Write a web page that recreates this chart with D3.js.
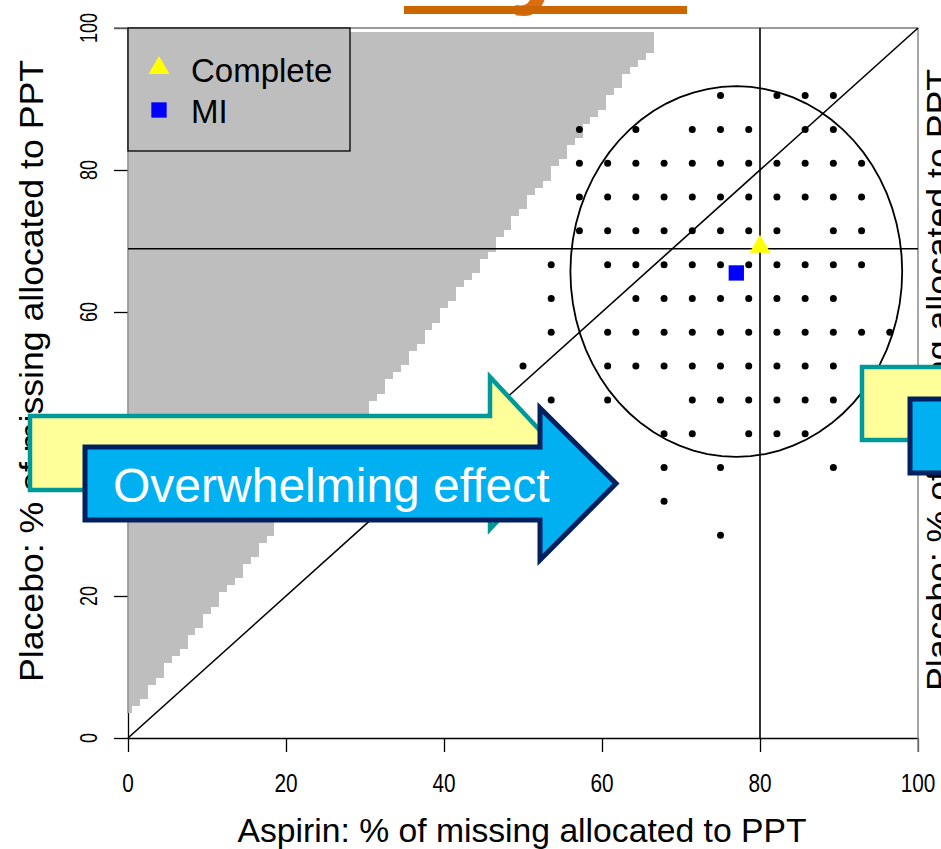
<!DOCTYPE html>
<html>
<head>
<meta charset="utf-8">
<script src="https://cdn.jsdelivr.net/npm/d3@7"></script>
<style>
  html, body { margin: 0; padding: 0; background: #ffffff; }
  svg { display: block; }
  text { font-family: "Liberation Sans", Arial, sans-serif; }
</style>
</head>
<body>
<svg id="chart" width="941" height="849"></svg>
<script>
// ---- data ----------------------------------------------------------
const xTicks = [0, 20, 40, 60, 80, 100];
const yTicks = [0, 20, 40, 60, 80, 100];
const xTitle = "Aspirin: % of missing allocated to PPT";
const yTitle = "Placebo: % of missing allocated to PPT";

// shaded (infeasible) region: for each integer aspirin % column, the lowest shaded placebo cell
const shadeColumns = d3.range(0, 67);
const shadeLowest = [4, 5, 6, 8, 9, 11, 12, 13, 15, 16, 18, 19, 21, 22, 23, 25, 26, 28, 29, 31,
                     32, 33, 35, 36, 38, 39, 41, 42, 44, 45, 46, 48, 49, 51, 52, 53, 55, 56, 58, 59,
                     61, 62, 64, 65, 66, 68, 69, 71, 72, 74, 75, 77, 78, 79, 81, 82, 84, 85, 87, 88,
                     89, 91, 92, 94, 95, 96, 97];
const shadeTop = 99.5;

// imputed allocations: aspirin has 28 missing, placebo has 21 missing
const aspirinMissing = 28;
const placeboMissing = 21;
const dotPlaceboCounts = [19, 18, 17, 16, 15, 14, 13, 12, 11, 10, 9, 8, 7, 6];
const dotAspirinCounts = [
  [21, 23, 24, 25],
  [16, 18, 20, 21, 22, 24, 25],
  [16, 17, 18, 19, 20, 21, 22, 23, 24, 25, 26],
  [16, 17, 18, 19, 20, 21, 22, 23, 24, 25, 26],
  [16, 17, 18, 19, 20, 21, 22, 23, 25, 26],
  [15, 17, 18, 19, 20, 21, 22, 23, 24, 25, 26],
  [15, 18, 19, 20, 21, 22, 23, 24, 25],
  [15, 17, 18, 19, 20, 21, 22, 23, 24, 25, 26, 27],
  [14, 17, 18, 19, 20, 21, 22, 23, 24, 25],
  [15, 17, 20, 21, 22, 23, 24, 25],
  [19, 20, 22, 23, 24],
  [19, 21, 25],
  [19],
  [21]
];

// summary points and the region around the MI estimate
const completePoint = [80.0, 68.9];
const miPoint = [77.0, 65.5];
const ellipseCenter = [77.0, 65.7];
const ellipseRadii = [21.0, 26.1];

const legendLabels = ["Complete", "MI"];
const arrowLabel = "Overwhelming effect";

// ---- layout --------------------------------------------------------
const svg = d3.select("#chart");
const x = d3.scaleLinear().domain([0, 100]).range([128, 918]);
const y = d3.scaleLinear().domain([0, 100]).range([738, 28]);

// axes (black)
const xAxis = d3.axisBottom(x).tickValues(xTicks).tickSize(14).tickSizeOuter(0).tickFormat("");
const yAxis = d3.axisLeft(y).tickValues(yTicks).tickSize(14).tickSizeOuter(0).tickFormat("");
const gx = svg.append("g").attr("transform", `translate(0,${y(0)})`).call(xAxis);
const gy = svg.append("g").attr("transform", `translate(${x(0)},0)`).call(yAxis);
[gx, gy].forEach(g => {
  g.selectAll("path").attr("stroke", "#000").attr("stroke-width", 1.3);
  g.selectAll("line").attr("stroke", "#000").attr("stroke-width", 1.3);
});
gx.selectAll(".tick").filter(d => d === 100).select("line").attr("stroke", "#555");

// tick labels
svg.append("g").selectAll("text").data(xTicks).join("text")
  .attr("transform", d => `translate(${x(d)},792) scale(0.8,1)`)
  .attr("text-anchor", "middle").attr("font-size", 26).attr("fill", "#000")
  .text(d => d);
svg.append("g").selectAll("text").data(yTicks).join("text")
  .attr("transform", d => `translate(97,${y(d)}) rotate(-90) scale(0.75,1)`)
  .attr("text-anchor", "middle").attr("font-size", 24).attr("fill", "#000")
  .text(d => d);

// shaded region, one raster column per aspirin %
svg.append("g").selectAll("rect").data(shadeColumns).join("rect")
  .attr("x", d => x(Math.max(0, d - 0.5)))
  .attr("width", d => x(d + 0.5) - x(Math.max(0, d - 0.5)) + 0.3)
  .attr("y", y(shadeTop))
  .attr("height", (d, i) => y(shadeLowest[i] - 0.5) - y(shadeTop))
  .attr("fill", "#bebebe")
  .attr("shape-rendering", "crispEdges");

// plot frame
const frame = svg.append("g").attr("fill", "none").attr("stroke", "#777").attr("stroke-width", 1.3);
frame.append("line").attr("x1", x(0) - 14).attr("x2", x(100)).attr("y1", y(100)).attr("y2", y(100));
frame.append("line").attr("x1", x(100)).attr("x2", x(100)).attr("y1", y(100)).attr("y2", y(0) + 14);
frame.append("line").attr("x1", x(0)).attr("x2", x(0)).attr("y1", y(100)).attr("y2", y(shadeLowest[0] - 0.5))
  .attr("stroke", "#8a8a8a");

// reference lines
const refs = svg.append("g").attr("stroke", "#000").attr("stroke-width", 1.6);
refs.append("line").attr("x1", x(0)).attr("y1", y(0)).attr("x2", x(100)).attr("y2", y(100));
refs.append("line").attr("x1", x(0)).attr("x2", x(100))
  .attr("y1", y(completePoint[1])).attr("y2", y(completePoint[1]));
refs.append("line").attr("y1", y(0)).attr("y2", y(100))
  .attr("x1", x(completePoint[0])).attr("x2", x(completePoint[0]));

// region around the MI estimate
const ellipsePts = d3.range(0, 73).map(k => {
  const a = k / 72 * 2 * Math.PI;
  return [ellipseCenter[0] + ellipseRadii[0] * Math.cos(a), ellipseCenter[1] + ellipseRadii[1] * Math.sin(a)];
});
svg.append("path")
  .attr("d", d3.line().x(d => x(d[0])).y(d => y(d[1]))(ellipsePts))
  .attr("fill", "none").attr("stroke", "#000").attr("stroke-width", 1.8);

// imputed allocations
const dots = [];
dotPlaceboCounts.forEach((pj, r) => dotAspirinCounts[r].forEach(ai => {
  dots.push([ai / aspirinMissing * 100, pj / placeboMissing * 100]);
}));
svg.append("g").selectAll("circle").data(dots).join("circle")
  .attr("cx", d => x(d[0])).attr("cy", d => y(d[1])).attr("r", 3.5).attr("fill", "#000");

// summary markers
const tri = d3.symbol().type(d3.symbolTriangle).size(190);
const sq = d3.symbol().type(d3.symbolSquare).size(235);
svg.append("path").attr("d", tri())
  .attr("transform", `translate(${x(completePoint[0])},${y(completePoint[1]) - 2})`).attr("fill", "#ffff00");
svg.append("path").attr("d", sq())
  .attr("transform", `translate(${x(miPoint[0])},${y(miPoint[1])})`).attr("fill", "#0000ff");

// legend
const lg = svg.append("g");
lg.append("rect").attr("x", x(0)).attr("y", y(100)).attr("width", 222).attr("height", 123)
  .attr("fill", "#bebebe").attr("stroke", "#000").attr("stroke-width", 1.3);
lg.append("path").attr("d", tri()).attr("transform", "translate(159,68)").attr("fill", "#ffff00");
lg.append("path").attr("d", sq()).attr("transform", "translate(159,110)").attr("fill", "#0000ff");
lg.selectAll("text").data(legendLabels).join("text")
  .attr("x", 191).attr("y", (d, i) => 82 + i * 41)
  .attr("font-size", 33).attr("fill", "#000").text(d => d);

// axis titles
svg.append("text").attr("x", 522).attr("y", 842).attr("text-anchor", "middle")
  .attr("font-size", 33).attr("textLength", 569).attr("lengthAdjust", "spacingAndGlyphs")
  .attr("fill", "#000").text(xTitle);
svg.append("text").attr("transform", "translate(43,371) rotate(-90)").attr("text-anchor", "middle")
  .attr("font-size", 33).attr("textLength", 622).attr("lengthAdjust", "spacingAndGlyphs")
  .attr("fill", "#000").text(yTitle);
// neighbouring panel's axis title, clipped at the page edge
svg.append("text").attr("transform", "translate(950,380) rotate(-90)").attr("text-anchor", "middle")
  .attr("font-size", 33).attr("textLength", 622).attr("lengthAdjust", "spacingAndGlyphs")
  .attr("fill", "#000").text(yTitle);

// slide heading, mostly above the page
svg.append("text").attr("x", 510).attr("y", -6).attr("font-size", 105).attr("font-weight", "bold")
  .attr("fill", "#d96f12").text("y");
svg.append("rect").attr("x", 404).attr("y", 6).attr("width", 283).attr("height", 8).attr("fill", "#cc6600");

// callout arrows
const arrowPath = (x0, x1, top, bottom, headTop, headBottom, tip) => {
  const mid = (top + bottom) / 2;
  return `M${x0},${top}H${x1}V${headTop}L${tip},${mid}L${x1},${headBottom}V${bottom}H${x0}Z`;
};
svg.append("path").attr("d", arrowPath(30, 490, 416, 490, 377, 529, 561))
  .attr("fill", "#ffff99").attr("stroke", "#009999").attr("stroke-width", 4.5).attr("stroke-linejoin", "miter");
svg.append("path").attr("d", arrowPath(85, 540, 447, 520, 408, 560, 616))
  .attr("fill", "#00b0f0").attr("stroke", "#002060").attr("stroke-width", 5).attr("stroke-linejoin", "miter");
svg.append("text").attr("x", 113).attr("y", 502).attr("font-size", 48).attr("fill", "#ffffff").text(arrowLabel);

// neighbouring panel's callouts
svg.append("rect").attr("x", 862).attr("y", 367).attr("width", 100).attr("height", 73)
  .attr("fill", "#ffff99").attr("stroke", "#009999").attr("stroke-width", 4.5);
svg.append("rect").attr("x", 910).attr("y", 399).attr("width", 100).attr("height", 74)
  .attr("fill", "#00b0f0").attr("stroke", "#002060").attr("stroke-width", 5);
</script>
</body>
</html>
